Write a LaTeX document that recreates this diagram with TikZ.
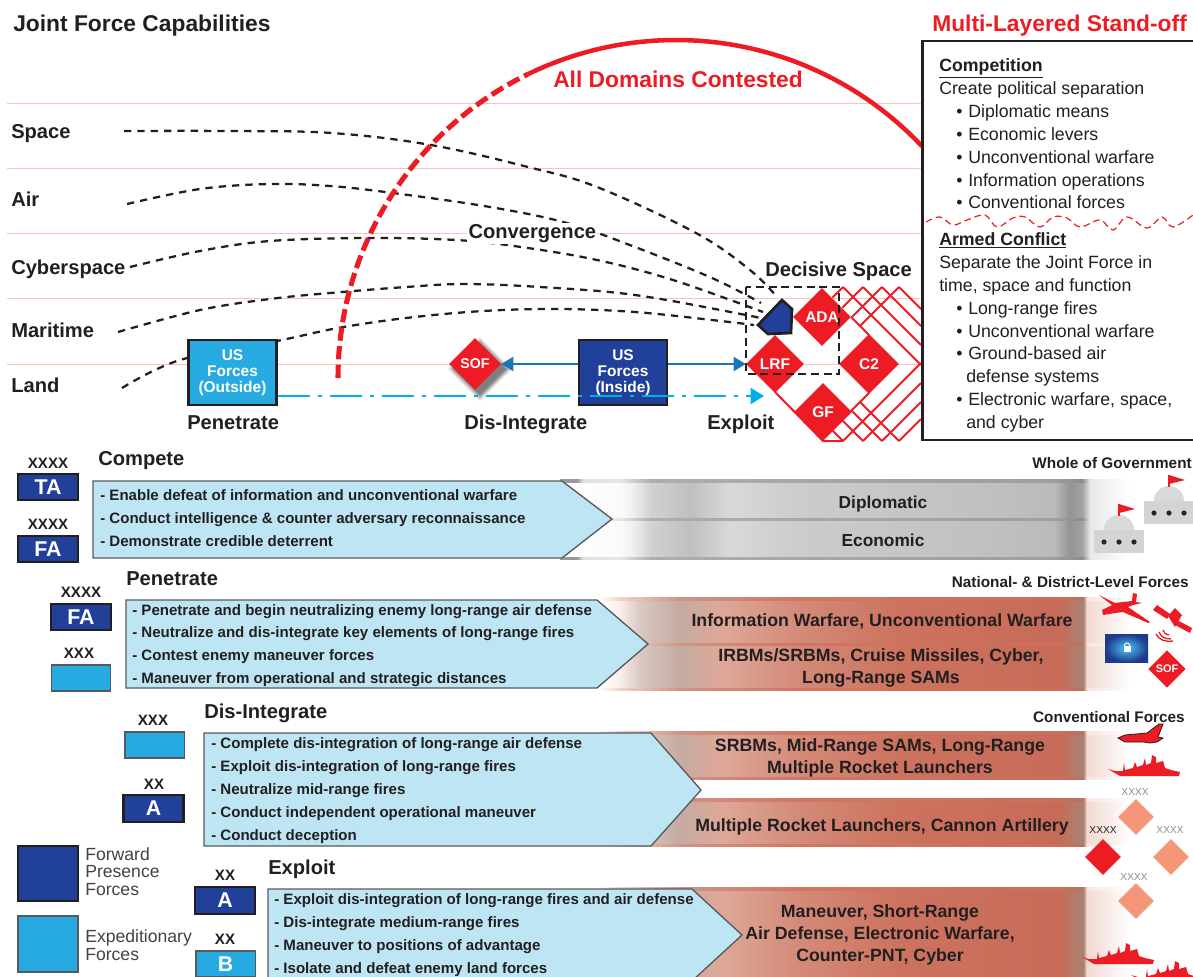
\documentclass[tikz,border=0pt]{standalone}
\usepackage{fontspec}
\setmainfont{Liberation Sans}
\usetikzlibrary{arrows.meta,shapes.geometric}
\definecolor{cred}{HTML}{ED1C24}
\definecolor{cnavy}{HTML}{21409A}
\definecolor{ccyan}{HTML}{27AAE1}
\definecolor{clight}{HTML}{BDE5F4}
\definecolor{cdark}{HTML}{231F20}
\definecolor{cpeach}{HTML}{F69679}
\definecolor{cpale}{HTML}{F9C4B4}
\definecolor{cblueline}{HTML}{1B75BC}
\definecolor{cdash}{HTML}{00AEEF}
\definecolor{cedge}{HTML}{58595B}
\pgfdeclarehorizontalshading{greybar}{100bp}{
 rgb(0bp)=(1,1,1); rgb(25bp)=(1,1,1); rgb(30.3bp)=(.98,.98,.98); rgb(31.2bp)=(.95,.95,.95);
 rgb(33bp)=(.82,.82,.82); rgb(36.4bp)=(.75,.75,.75); rgb(39.9bp)=(.85,.85,.86); rgb(46bp)=(.80,.80,.81);
 rgb(63.6bp)=(.75,.75,.76); rgb(68.4bp)=(.73,.73,.74); rgb(69.7bp)=(.58,.58,.59); rgb(70.8bp)=(.64,.64,.64);
 rgb(71.5bp)=(.91,.91,.91); rgb(75bp)=(1,1,1); rgb(100bp)=(1,1,1)}
\pgfdeclarehorizontalshading{greyedge}{100bp}{
 rgb(0bp)=(.6,.6,.6); rgb(26.5bp)=(.6,.6,.6); rgb(27bp)=(.88,.88,.88); rgb(30.3bp)=(.9,.9,.9);
 rgb(33bp)=(.68,.68,.68); rgb(68.4bp)=(.62,.62,.62); rgb(70.8bp)=(.55,.55,.55);
 rgb(71.5bp)=(.91,.91,.91); rgb(75bp)=(1,1,1); rgb(100bp)=(1,1,1)}
\pgfdeclarehorizontalshading{redbar}{100bp}{
 rgb(0bp)=(1,1,1); rgb(25bp)=(1,1,1); rgb(26.9bp)=(.98,.93,.91); rgb(28.8bp)=(.85,.78,.76);
 rgb(32.5bp)=(.77,.67,.63); rgb(36.3bp)=(.87,.66,.60); rgb(43.9bp)=(.83,.54,.47); rgb(53.3bp)=(.80,.45,.37);
 rgb(68.4bp)=(.78,.42,.35); rgb(69.8bp)=(.70,.49,.42); rgb(70.6bp)=(.67,.50,.44); rgb(70.9bp)=(.95,.85,.82);
 rgb(75bp)=(1,1,1); rgb(100bp)=(1,1,1)}
\pgfdeclarehorizontalshading{rededge}{100bp}{
 rgb(0bp)=(1,1,1); rgb(25bp)=(1,1,1); rgb(26.9bp)=(.95,.82,.78); rgb(32.5bp)=(.82,.58,.52);
 rgb(43.9bp)=(.82,.46,.38); rgb(68.4bp)=(.80,.43,.35); rgb(70.6bp)=(.72,.45,.38); rgb(70.9bp)=(.97,.90,.88);
 rgb(75bp)=(1,1,1); rgb(100bp)=(1,1,1)}
\tikzset{
 x=0.75pt,y=-0.75pt,
 txt/.style={inner sep=0pt,text=cdark,align=left},
 lw/.style={txt,anchor=mid west},
 le/.style={txt,anchor=mid east},
 lc/.style={txt,anchor=mid,align=center},
 title/.style={lw,yshift=-3pt,font=\bfseries\fontsize{17.1}{20}\selectfont},
 head/.style={lw,yshift=-3pt,font=\bfseries\fontsize{15.1}{18}\selectfont},
 reg/.style={lw,yshift=-2.2pt,font=\fontsize{13.3}{16}\selectfont},
 pnt/.style={lw,yshift=-1.5pt,font=\bfseries\fontsize{11.3}{14}\selectfont},
 bar/.style={lc,yshift=-2.2pt,font=\bfseries\fontsize{13.3}{16.3}\selectfont},
 barm/.style={bar,anchor=center},
 corps/.style={lc,yshift=-1.5pt,font=\bfseries\fontsize{11.3}{13}\selectfont},
 sml/.style={lc,font=\fontsize{7.6}{9}\selectfont},
 hdr/.style={le,yshift=-1.5pt,font=\bfseries\fontsize{11.5}{14}\selectfont},
 leg/.style={lw,yshift=-2pt,font=\fontsize{13.2}{16}\selectfont,text=cdark!85},
 band/.style={draw=cpale,line width=.7pt},
 curve/.style={draw=cdark,dash pattern=on 5.5pt off 4.5pt,line width=1.7pt},
 forcebox/.style={draw=cdark,line width=1.7pt,inner sep=0pt,text=white,font=\bfseries\fontsize{16}{18}\selectfont},
 navybox/.style={forcebox,fill=cnavy},
 cyanbox/.style={forcebox,fill=ccyan,draw=cedge,line width=1pt},
 arrowbox/.style={draw=cedge,line width=1pt,fill=clight,line join=miter},
 dia/.style={diamond,aspect=1,inner sep=0pt,fill=cred,text=white,font=\bfseries\fontsize{11.6}{13}\selectfont,minimum size=43.5pt},
 us/.style={draw=cdark,line width=1.7pt,inner sep=0pt,align=center,text=white,minimum width=66pt,minimum height=48.5pt,font=\bfseries\fontsize{11.6}{12}\selectfont},
 icon/.style={fill=cred,draw=none},
 redline/.style={draw=cred,line width=1.5pt,line join=miter},
}
\newcommand\shipsil{(0,0)--(7,2)--(15,2)--(16,-6)--(17,1)--(25,-1)--(27,-7)--(29,-2)--(35,-4)--(37,-11)--(38,-4)--(43,-6)--(44,-14)--(48,-12)--(48,-6)--(55,-8)--(57,-1)--(63,1)--(72,3)--(71,7)--(12,7)--cycle}
\begin{document}
\begin{tikzpicture}
\useasboundingbox (0,0) rectangle (1193,976);
\clip (0,0) rectangle (1193,976);
% domain bands
\foreach \yy in {103,168,233,298,364} \draw[band] (7,\yy) -- (922,\yy);
% nested red diamond outlines
\foreach \tx in {843,863,882,899}{
 \draw[redline] (\tx,287) -- (921,{287+921-\tx});
 \draw[redline] (\tx,287) -- ({(\tx+287+535)/2},{(\tx+287+535)/2-535});
 \draw[redline] (\tx,441) -- (921,{441-921+\tx});
 \draw[redline] (\tx,441) -- ({(\tx-441+1263)/2},{1263-(\tx-441+1263)/2});
}
\draw[redline] (851,317) -- (869,335);
\draw[redline] (869,393) -- (851,411);
\draw[redline] (775,392) -- (823,441) -- (843,441);
% curves
\draw[curve] plot[smooth,tension=.6] coordinates {(124,131) (230,131) (332,133) (431,145) (528,167) (597,187) (696,233) (750,270) (777,297)};
\draw[curve] plot[smooth,tension=.6] coordinates {(127,204) (200,189) (270,184) (330,186) (393,193) (490,207) (567,223) (635,247) (712,278) (761,303)};
\draw[curve] plot[smooth,tension=.6] coordinates {(130,267) (200,251) (270,241) (368,238) (456,240) (521,247) (597,260) (673,280) (763,312)};
\draw[curve] plot[smooth,tension=.6] coordinates {(118,332) (200,310) (270,299) (330,293) (406,287) (464,284) (540,287) (635,295) (746,315) (757,318)};
\draw[curve] plot[smooth,tension=.6] coordinates {(122,388) (180,360) (277,341) (338,328) (406,318) (483,311) (559,309) (635,312) (712,320) (754,325)};
% big arc
\draw[cred,line width=3.8pt,dash pattern=on 10pt off 4pt] plot[domain=180:116,samples=80] ({676+338*cos(\x)},{378-338*sin(\x)});
\draw[cred,line width=3.4pt] plot[domain=116:43.3,samples=80] ({676+338*cos(\x)},{378-338*sin(\x)});
% labels
\node[title] (ttl) at (13,24) {Joint Force Capabilities};
\node[title,text=cred] (ttr) at (932,24) {Multi-Layered Stand-off};
\node[title,text=cred] (alld) at (553,80) {All Domains Contested};
\node[head] (dspace) at (11,131) {Space};
\node[head] (dair) at (11,199) {Air};
\node[head] (dcyber) at (11,267) {Cyberspace};
\node[head] (dmar) at (11,330) {Maritime};
\node[head] (dland) at (11,385) {Land};
\node[head,fill=white,inner sep=1pt] (conv) at (467,231) {Convergence};
\node[head] (decis) at (765,269) {Decisive Space};
% forces and diamonds
\node[us,fill=ccyan] (usout) at (232.5,372.5) {US\\Forces\\(Outside)};
\node[us,fill=cnavy] (usin) at (623,372.5) {US\\Forces\\(Inside)};
\foreach \gg/\oo in {6/.10,4/.14,2/.18,0/.22}
 \fill[black,opacity=\oo] (475+5,{364-26-\gg+5}) -- ({475+26+\gg+5},{364+5}) -- (475+5,{364+26+\gg+5}) -- ({475-26-\gg+5},{364+5}) -- cycle;
\node[dia,minimum size=39pt,font=\bfseries\fontsize{10.6}{13}\selectfont] (sof) at (475,364) {SOF};
\node[dia] (ada) at (822,317) {ADA};
\node[dia,minimum size=45pt] (c2) at (869,364) {C2};
\node[dia] (gf) at (823,412) {GF};
\node[dia] (lrf) at (775,364) {LRF};
\draw[cdark,line width=2pt,line join=miter,fill=cnavy] (758,325)--(782,300)--(792,309)--(791,333)--(768,334)--cycle;
\draw[cdark,line width=1.8pt,dash pattern=on 6pt off 3.5pt] (746,287) rectangle (839,374);
\draw[cblueline,line width=1.6pt,-{Triangle[length=9pt,width=10.5pt]}] (sof.east -| usin.west) -- (sof.east);
\draw[cblueline,line width=1.6pt,-{Triangle[length=9pt,width=10.5pt]}] (lrf.west -| usin.east) -- (lrf.west);
\coordinate (expl) at (764,396);
\draw[cdash,line width=1.6pt,dash pattern=on 24pt off 6pt on 3pt off 6pt,-{Triangle[length=10pt,width=12pt]}] (usout.east |- expl) -- (expl);
\node[head] (lpen) at (187,422) {Penetrate};
\node[head] (ldis) at (464,422) {Dis-Integrate};
\node[head] (lexp) at (707,422) {Exploit};
% right panel
\draw[cdark,line width=2.2pt,fill=white] (922.5,41) rectangle (1200,440);
\node[reg,font=\bfseries\fontsize{13.3}{16}\selectfont] (p1) at (939,65) {\underline{Competition}};
\node[reg] (p2) at (939,88) {Create political separation};
\foreach \nm/\yy/\tt in {a/111/Diplomatic means,b/134/Economic levers,c/157/Unconventional warfare,d/180/Information operations,e/202/Conventional forces,f/308/Long-range fires,g/331/Unconventional warfare,h/353/Ground-based air,i/399/{Electronic warfare, space,}}{
 \node[reg] (bu\nm) at (956,\yy) {•};
 \node[reg] (tx\nm) at (968,\yy) {\tt};
}
\node[reg] (txj) at (966,376) {defense systems};
\node[reg] (txk) at (966,422) {and cyber};
\node[reg,font=\bfseries\fontsize{13.3}{16}\selectfont] (p3) at (939,239) {\underline{Armed Conflict}};
\node[reg] (p4) at (939,262) {Separate the Joint Force in};
\node[reg] (p5) at (939,285) {time, space and function};
\draw[cred,line width=.9pt,dash pattern=on 5pt off 3pt] plot[smooth,tension=.6] coordinates {(926,222) (940,217) (953,225) (967,220) (985,215) (997,227) (1013,218) (1025,217) (1040,227) (1053,217) (1067,218) (1080,227) (1100,220) (1113,230) (1127,217) (1147,228) (1162,217) (1173,227) (1193,215)};
% gray bars
\shade[shading=greybar] (560,480) rectangle (1130,559);
\shade[shading=greyedge] (560,479.5) rectangle (1130,482);
\shade[shading=greyedge] (560,557) rectangle (1130,559.5);
\shade[shading=greyedge] (560,518) rectangle (1130,520.5);
% red bars
\shade[shading=redbar] (600,598) rectangle (1130,690);
\shade[shading=rededge] (600,597.5) rectangle (1130,600);
\shade[shading=rededge] (600,688) rectangle (1130,690.5);
\shade[shading=rededge] (600,643) rectangle (1130,645.5);
\shade[shading=redbar] (600,732) rectangle (1130,779);
\shade[shading=rededge] (600,731.5) rectangle (1130,734);
\shade[shading=rededge] (600,777) rectangle (1130,779.5);
\shade[shading=redbar] (600,799) rectangle (1130,846);
\shade[shading=rededge] (600,798.5) rectangle (1130,801);
\shade[shading=rededge] (600,844) rectangle (1130,846.5);
\shade[shading=redbar] (600,888) rectangle (1130,990);
\shade[shading=rededge] (600,887.5) rectangle (1130,890);
% arrow boxes
\draw[arrowbox] (93,481)--(562,481)--(612,519)--(562,558)--(93,558)--cycle;
\draw[arrowbox] (126,600)--(597,600)--(648,644)--(597,688)--(126,688)--cycle;
\draw[arrowbox] (204,733)--(651,733)--(701,790)--(651,846)--(204,846)--cycle;
\draw[arrowbox] (268,889)--(692,889)--(742,935)--(692,981)--(268,981)--cycle;
% section headings
\node[head] (h1) at (98,458) {Compete};
\node[head] (h2) at (126,578) {Penetrate};
\node[head] (h3) at (204,711) {Dis-Integrate};
\node[head] (h4) at (268,867) {Exploit};
% bullets in boxes
\node[pnt] (c1) at (100,495) {- Enable defeat of information and unconventional warfare};
\node[pnt] (c2t) at (100,518) {- Conduct intelligence \& counter adversary reconnaissance};
\node[pnt] (c3) at (100,541) {- Demonstrate credible deterrent};
\node[pnt] (d1) at (132,610) {- Penetrate and begin neutralizing enemy long-range air defense};
\node[pnt] (d2) at (132,632) {- Neutralize and dis-integrate key elements of long-range fires};
\node[pnt] (d3) at (132,655) {- Contest enemy maneuver forces};
\node[pnt] (d4) at (132,678) {- Maneuver from operational and strategic distances};
\node[pnt] (e1) at (211,743) {- Complete dis-integration of long-range air defense};
\node[pnt] (e2) at (211,766) {- Exploit dis-integration of long-range fires};
\node[pnt] (e3) at (211,789) {- Neutralize mid-range fires};
\node[pnt] (e4) at (211,812) {- Conduct independent operational maneuver};
\node[pnt] (e5) at (211,835) {- Conduct deception};
\node[pnt] (f1) at (274,899) {- Exploit dis-integration of long-range fires and air defense};
\node[pnt] (f2) at (274,922) {- Dis-integrate medium-range fires};
\node[pnt] (f3) at (274,945) {- Maneuver to positions of advantage};
\node[pnt] (f4) at (274,968) {- Isolate and defeat enemy land forces};
% bar texts
\node[bar,font=\bfseries\fontsize{13}{16}\selectfont] (b1) at (883,502) {Diplomatic};
\node[bar,font=\bfseries\fontsize{13}{16}\selectfont] (b2) at (883,540) {Economic};
\node[bar] (b3) at (882,620) {Information Warfare, Unconventional Warfare};
\node[barm] (b4) at (881,665) {IRBMs/SRBMs, Cruise Missiles, Cyber,\\Long-Range SAMs};
\node[barm] (b5) at (880,755) {SRBMs, Mid-Range SAMs, Long-Range\\Multiple Rocket Launchers};
\node[bar] (b6) at (882,825) {Multiple Rocket Launchers, Cannon Artillery};
\node[barm] (b7) at (880,932) {Maneuver, Short-Range\\Air Defense, Electronic Warfare,\\Counter-PNT, Cyber};
% echelon markers
\node[corps] (x1) at (48,463) {XXXX};
\node[navybox,minimum width=45pt,minimum height=20pt] (ta1) at (48,487) {TA};
\node[corps] (x2) at (48,524) {XXXX};
\node[navybox,minimum width=45pt,minimum height=20pt] (fa1) at (48,549) {FA};
\node[corps] (x3) at (81,592) {XXXX};
\node[navybox,minimum width=45pt,minimum height=20pt] (fa2) at (81,617) {FA};
\node[corps] (x4) at (79,653) {XXX};
\node[cyanbox,minimum width=44.5pt,minimum height=19.5pt] (cy1) at (81,678) {};
\node[corps] (x5) at (153,720) {XXX};
\node[cyanbox,minimum width=44.5pt,minimum height=19.5pt] (cy2) at (154.5,745) {};
\node[corps] (x6) at (154,784) {XX};
\node[navybox,minimum width=45pt,minimum height=20pt] (a1) at (153.5,808.5) {A};
\node[corps] (x7) at (225,875) {XX};
\node[navybox,minimum width=45pt,minimum height=20pt] (a2) at (225,900.5) {A};
\node[corps] (x8) at (225,939) {XX};
\node[cyanbox,minimum width=44.5pt,minimum height=19.5pt] (b0) at (225.5,964) {\textcolor{white}{B}};
% legend
\node[navybox,minimum width=45pt,minimum height=41pt] (lg1) at (48,873.5) {};
\node[cyanbox,minimum width=45pt,minimum height=42pt] (lg2) at (48,944) {};
\node[leg] (lt1) at (85,854) {Forward};
\node[leg] (lt2) at (85,871) {Presence};
\node[leg] (lt3) at (85,889) {Forces};
\node[leg] (lt4) at (85,936) {Expeditionary};
\node[leg] (lt5) at (85,954) {Forces};
% right headers
\node[hdr] (rh1) at (1192,463) {Whole of Government};
\node[hdr] (rh2) at (1189,582) {National- \& District-Level Forces};
\node[hdr] (rh3) at (1185,717) {Conventional Forces};
% government buildings
\foreach \bx/\by in {1169/501,1119/530}{
 \fill[black!17] (\bx-25,\by) rectangle (\bx+25,\by+23);
 \fill[black!15] plot[domain=0:180,samples=25] ({\bx+15*cos(\x)},{\by-15*sin(\x)});
 \draw[cred,line width=.8pt] (\bx,\by-26) -- (\bx,\by-14);
 \fill[cred] (\bx,\by-26)--(\bx+16,\by-21)--(\bx,\by-17)--cycle;
 \foreach \dd in {-15,0,15} \fill[black!85] (\bx+\dd,\by+12) circle[radius=2.6];
}
% bomber
\fill[icon] (1099,595)--(1115,603)--(1132,601)--(1133,593)--(1137,594)--(1136,602)--(1142,603)--(1133,605)--(1128,607)--(1150,622)--(1148,623)--(1123,612)--(1115,613)--(1103,615)--(1102,610)--(1112,605)--cycle;
% satellite
\fill[icon] (1153,610)--(1157,605)--(1170,614)--(1167,619)--cycle;
\fill[icon] (1168,616)--(1175,608)--(1182,615)--(1175,627)--cycle;
\fill[icon] (1177,620)--(1192,628)--(1190,633)--(1175,625)--cycle;
\draw[cred,line width=1pt] (1163,630) .. controls (1164,633) and (1166,635) .. (1169,635);
\draw[cred,line width=1pt] (1159,632) .. controls (1161,637) and (1165,639) .. (1171,639);
\draw[cred,line width=1pt] (1156,634) .. controls (1159,640) and (1165,642) .. (1173,641);
% cyber tile
\shade[inner color=cdash!70!white,outer color=cnavy!90!black] (1105,634) rectangle (1148,662);
\draw[white,line width=.7pt] plot[domain=0:180,samples=13] ({1127+2.6*cos(\x)},{646-3*sin(\x)});
\fill[white] (1123.5,646) rectangle (1131,652);
\node[dia,minimum size=28pt,font=\bfseries\fontsize{8.2}{10}\selectfont] (sof2) at (1167,669) {SOF};
% jet
\draw[cred,fill=cred,draw=cdark,line width=.6pt] (1118,738)--(1125,735)--(1147,733)--(1159,724)--(1163,724)--(1158,737)--(1163,738)--(1157,742)--(1150,743)--(1143,742)--(1125,742)--cycle;
% ships
\fill[cred,shift={(1108,769)}] \shipsil;
\fill[cred,shift={(1082,957)}] \shipsil;
\fill[cred,shift={(1131,975)}] \shipsil;
% echelon diamonds
\node[sml,text=black!45] (sx1) at (1135,792) {XXXX};
\node[sml] (sx2) at (1103,830) {XXXX};
\node[sml,text=black!45] (sx3) at (1170,830) {XXXX};
\node[sml,text=black!45] (sx4) at (1134,877) {XXXX};
\node[dia,fill=cpeach,minimum size=27pt] (sd1) at (1136,817) {};
\node[dia,minimum size=27pt] (sd2) at (1103,857) {};
\node[dia,fill=cpeach,minimum size=27pt] (sd3) at (1171,857) {};
\node[dia,fill=cpeach,minimum size=27pt] (sd4) at (1136,901) {};
\end{tikzpicture}
\end{document}
